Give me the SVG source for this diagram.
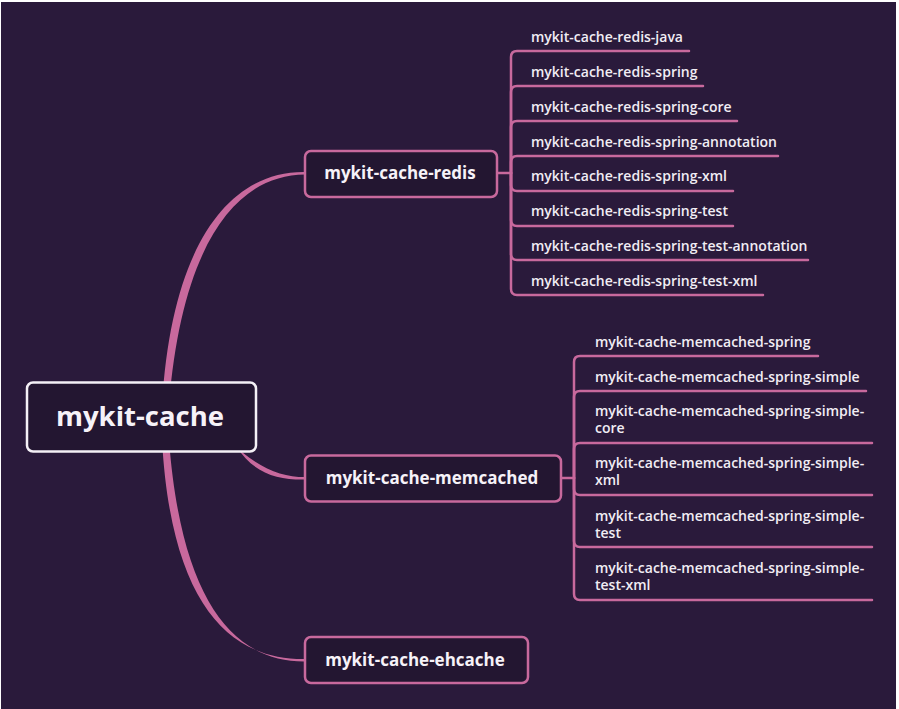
<svg xmlns="http://www.w3.org/2000/svg" width="899" height="709" viewBox="0 0 899 709">
<defs>
<style>
.bg{fill:#2a1a3b}
.main{fill:#231631;stroke:#c8699d;stroke-width:2.5}
.root{fill:#231631;stroke:#f4f0f6;stroke-width:2.5}
.conn{fill:none;stroke:#c8699d;stroke-width:2.5;stroke-linecap:round}
.taper{fill:#c8699d;stroke:none}
.t-root{font-family:"Open Sans","DejaVu Sans",sans-serif;font-weight:700;font-size:27.5px;fill:#f6f2f8;text-anchor:middle}
.t-main{font-family:"Open Sans","DejaVu Sans",sans-serif;font-weight:700;font-size:17px;fill:#f6f2f8;text-anchor:middle}
.t-leaf{font-family:"Open Sans","DejaVu Sans",sans-serif;font-weight:600;font-size:14px;fill:#f1edf4}
</style>
</defs>
<rect x="0" y="0" width="899" height="709" fill="#ffffff"/>
<rect class="bg" x="1" y="2" width="895" height="707"/>
<g id="connectors">
<path class="taper" d="M162,405 C171,250 226,171 305,172 L305,174.5 C232,175 181,252 169,405 Z"/>
<path class="taper" d="M162,440 C171,602 228,660 305,659 L305,661.5 C232,662 181,598 169,440 Z"/>
<path class="taper" d="M228,440 C258,468 280,477 305,477 L305,479.5 C278,480 254,474 236,446 Z"/>
<path class="conn" d="M497,173 H511"/>
<path class="conn" d="M511,173 V57 Q511,51 517,51 H689"/>
<path class="conn" d="M511,173 V92 Q511,86 517,86 H703"/>
<path class="conn" d="M511,173 V127 Q511,121 517,121 H737"/>
<path class="conn" d="M511,173 V162 Q511,156 517,156 H778"/>
<path class="conn" d="M511,173 V185 Q511,191 517,191 H733"/>
<path class="conn" d="M511,173 V220 Q511,226 517,226 H733"/>
<path class="conn" d="M511,173 V254 Q511,260 517,260 H808"/>
<path class="conn" d="M511,173 V289 Q511,295 517,295 H763"/>
<path class="conn" d="M561,478 H574"/>
<path class="conn" d="M574,478 V362 Q574,356 580,356 H818"/>
<path class="conn" d="M574,478 V397 Q574,391 580,391 H866"/>
<path class="conn" d="M574,478 V449 Q574,443 580,443 H872"/>
<path class="conn" d="M574,478 V489 Q574,495 580,495 H872"/>
<path class="conn" d="M574,478 V541 Q574,547 580,547 H872"/>
<path class="conn" d="M574,478 V594 Q574,600 580,600 H872"/>
</g>
<g id="root">
<rect class="root" x="27" y="382.5" width="229" height="69" rx="6"/>
<text class="t-root" x="140" y="426">mykit-cache</text>
</g>
<g id="redis">
<rect class="main" x="305" y="151" width="192" height="46" rx="6"/>
<text class="t-main" x="400" y="179">mykit-cache-redis</text>
</g>
<g id="memcached">
<rect class="main" x="305" y="455.5" width="256" height="46" rx="6"/>
<text class="t-main" x="432" y="484">mykit-cache-memcached</text>
</g>
<g id="ehcache">
<rect class="main" x="305" y="637" width="223" height="46" rx="6"/>
<text class="t-main" x="415" y="665.5">mykit-cache-ehcache</text>
</g>
<g id="redis-java"><text class="t-leaf" x="531" y="42">mykit-cache-redis-java</text></g>
<g id="redis-spring"><text class="t-leaf" x="531" y="76.5">mykit-cache-redis-spring</text></g>
<g id="redis-spring-core"><text class="t-leaf" x="531" y="111.5">mykit-cache-redis-spring-core</text></g>
<g id="redis-spring-annotation"><text class="t-leaf" x="531" y="146.5">mykit-cache-redis-spring-annotation</text></g>
<g id="redis-spring-xml"><text class="t-leaf" x="531" y="181">mykit-cache-redis-spring-xml</text></g>
<g id="redis-spring-test"><text class="t-leaf" x="531" y="216">mykit-cache-redis-spring-test</text></g>
<g id="redis-spring-test-annotation"><text class="t-leaf" x="531" y="250.5">mykit-cache-redis-spring-test-annotation</text></g>
<g id="redis-spring-test-xml"><text class="t-leaf" x="531" y="285.5">mykit-cache-redis-spring-test-xml</text></g>
<g id="mem-spring"><text class="t-leaf" x="595" y="346.5">mykit-cache-memcached-spring</text></g>
<g id="mem-spring-simple"><text class="t-leaf" x="595" y="381.5">mykit-cache-memcached-spring-simple</text></g>
<g id="mem-spring-simple-core"><text class="t-leaf" x="595" y="416">mykit-cache-memcached-spring-simple-<tspan x="595" y="433">core</tspan></text></g>
<g id="mem-spring-simple-xml"><text class="t-leaf" x="595" y="468">mykit-cache-memcached-spring-simple-<tspan x="595" y="485">xml</tspan></text></g>
<g id="mem-spring-simple-test"><text class="t-leaf" x="595" y="520.5">mykit-cache-memcached-spring-simple-<tspan x="595" y="537.5">test</tspan></text></g>
<g id="mem-spring-simple-test-xml"><text class="t-leaf" x="595" y="573">mykit-cache-memcached-spring-simple-<tspan x="595" y="590">test-xml</tspan></text></g>
</svg>
